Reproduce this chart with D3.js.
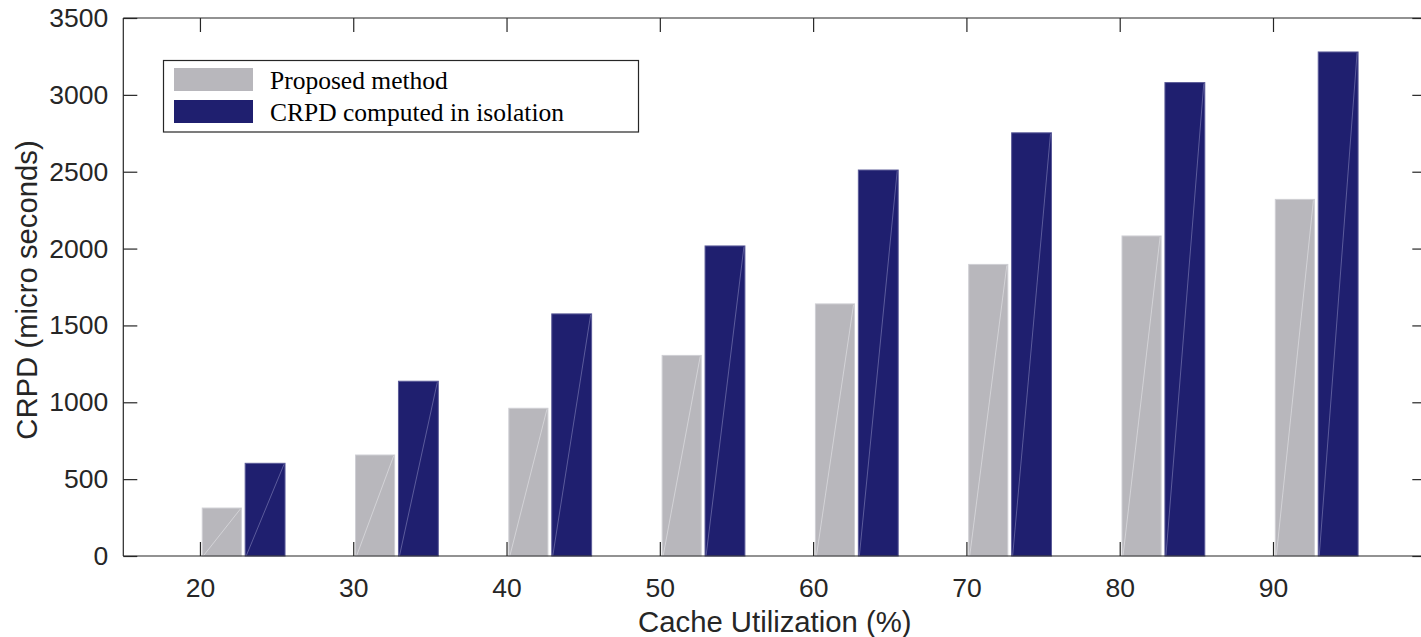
<!DOCTYPE html>
<html>
<head>
<meta charset="utf-8">
<script src="https://cdn.jsdelivr.net/npm/d3@7"></script>
<style>
  html, body { margin: 0; padding: 0; background: #fff; }
  svg { display: block; }
</style>
</head>
<body>
<svg id="chart" width="1421" height="637"></svg>
<script>
const categories = [20, 30, 40, 50, 60, 70, 80, 90];
const proposed = [312, 657, 961, 1305, 1640, 1897, 2082, 2320];
const isolation = [603, 1137, 1575, 2017, 2511, 2753, 3080, 3279];
const yTicks = [0, 500, 1000, 1500, 2000, 2500, 3000, 3500];
const seriesNames = ["Proposed method", "CRPD computed in isolation"];
const seriesColors = ["#b8b7bc", "#1f1f6f"];
const edgeColors = ["#cfcfd4", "#5b5b98"];
const diagColors = ["#d9d9dd", "#6a6aa6"];
const xLabel = "Cache Utilization (%)";
const yLabel = "CRPD (micro seconds)";

const svg = d3.select("#chart");
const pLeft = 123.3, pRight = 1426.3, pTop = 18, pBottom = 556;
const x = d3.scaleLinear().domain([15, 100]).range([pLeft, pRight]);
const y = d3.scaleLinear().domain([0, 3500]).range([pBottom, pTop]);
const axisColor = "#262626";
const tickFont = "'Liberation Sans', Arial, Helvetica, sans-serif";
const tickLen = 14;

// bars: offsets in data units relative to the category
const offsets = [[0.15, 2.7], [2.95, 5.55]];
const series = [proposed, isolation];
series.forEach((vals, si) => {
  const g = svg.append("g");
  categories.forEach((c, i) => {
    const x0 = x(c + offsets[si][0]), x1 = x(c + offsets[si][1]);
    const y0 = y(0), y1 = y(vals[i]);
    g.append("rect")
      .attr("x", x0).attr("y", y1)
      .attr("width", x1 - x0).attr("height", y0 - y1)
      .attr("fill", seriesColors[si])
      .attr("stroke", edgeColors[si]).attr("stroke-width", 1);
    g.append("line")
      .attr("x1", x0 + 1).attr("y1", y0)
      .attr("x2", x1 - 1).attr("y2", y1 + 1)
      .attr("stroke", diagColors[si]).attr("stroke-width", 1)
      .attr("stroke-opacity", 0.8);
  });
});

// axes box
const ax = svg.append("g").attr("stroke", axisColor).attr("stroke-width", 1.2).attr("fill", "none");
ax.append("line").attr("x1", pLeft).attr("x2", pRight).attr("y1", pBottom).attr("y2", pBottom);
ax.append("line").attr("x1", pLeft).attr("x2", pRight).attr("y1", pTop).attr("y2", pTop);
ax.append("line").attr("x1", pLeft).attr("x2", pLeft).attr("y1", pTop).attr("y2", pBottom);
ax.append("line").attr("x1", pRight).attr("x2", pRight).attr("y1", pTop).attr("y2", pBottom);

// x ticks (bottom and top, inward)
const xAxisB = d3.axisBottom(x).tickValues(categories).tickSizeInner(-tickLen).tickSizeOuter(0).tickPadding(tickLen + 8);
const gxb = svg.append("g").attr("transform", `translate(0,${pBottom})`).call(xAxisB);
gxb.select(".domain").remove();
gxb.selectAll(".tick line").attr("stroke", axisColor).attr("stroke-width", 1.2);
gxb.selectAll(".tick text").attr("fill", axisColor).attr("font-family", tickFont).attr("font-size", 26.5);

const xAxisT = d3.axisTop(x).tickValues(categories).tickSizeInner(-tickLen).tickSizeOuter(0).tickFormat("");
const gxt = svg.append("g").attr("transform", `translate(0,${pTop})`).call(xAxisT);
gxt.select(".domain").remove();
gxt.selectAll(".tick line").attr("stroke", axisColor).attr("stroke-width", 1.2);

// y ticks
const yAxisL = d3.axisLeft(y).tickValues(yTicks).tickFormat(d3.format("d")).tickSizeInner(-tickLen).tickSizeOuter(0).tickPadding(15);
const gyl = svg.append("g").attr("transform", `translate(${pLeft},0)`).call(yAxisL);
gyl.select(".domain").remove();
gyl.selectAll(".tick line").attr("stroke", axisColor).attr("stroke-width", 1.2);
gyl.selectAll(".tick text").attr("fill", axisColor).attr("font-family", tickFont).attr("font-size", 26.5);

const yAxisR = d3.axisRight(y).tickValues(yTicks).tickSizeInner(-tickLen).tickSizeOuter(0).tickFormat("");
const gyr = svg.append("g").attr("transform", `translate(${pRight},0)`).call(yAxisR);
gyr.select(".domain").remove();
gyr.selectAll(".tick line").attr("stroke", axisColor).attr("stroke-width", 1.2);

// axis labels
svg.append("text")
  .attr("x", (pLeft + pRight) / 2).attr("y", 632)
  .attr("text-anchor", "middle")
  .attr("font-family", tickFont).attr("font-size", 29.3).attr("fill", axisColor)
  .text(xLabel);
svg.append("text")
  .attr("transform", `translate(37,${(pTop + pBottom) / 2 + 3}) rotate(-90)`)
  .attr("text-anchor", "middle")
  .attr("font-family", tickFont).attr("font-size", 29.3).attr("fill", axisColor)
  .text(yLabel);

// legend
const lg = svg.append("g");
lg.append("rect").attr("x", 163.5).attr("y", 60.5).attr("width", 475).attr("height", 71.5)
  .attr("fill", "#fff").attr("stroke", axisColor).attr("stroke-width", 1.2);
seriesNames.forEach((name, i) => {
  lg.append("rect").attr("x", 174).attr("y", 68 + i * 32).attr("width", 79).attr("height", 23)
    .attr("fill", seriesColors[i]);
  lg.append("text").attr("x", 270).attr("y", 89 + i * 32)
    .attr("font-family", "'Liberation Serif', 'Times New Roman', serif")
    .attr("font-size", 25.5).attr("fill", "#000")
    .text(name);
});
</script>
</body>
</html>
